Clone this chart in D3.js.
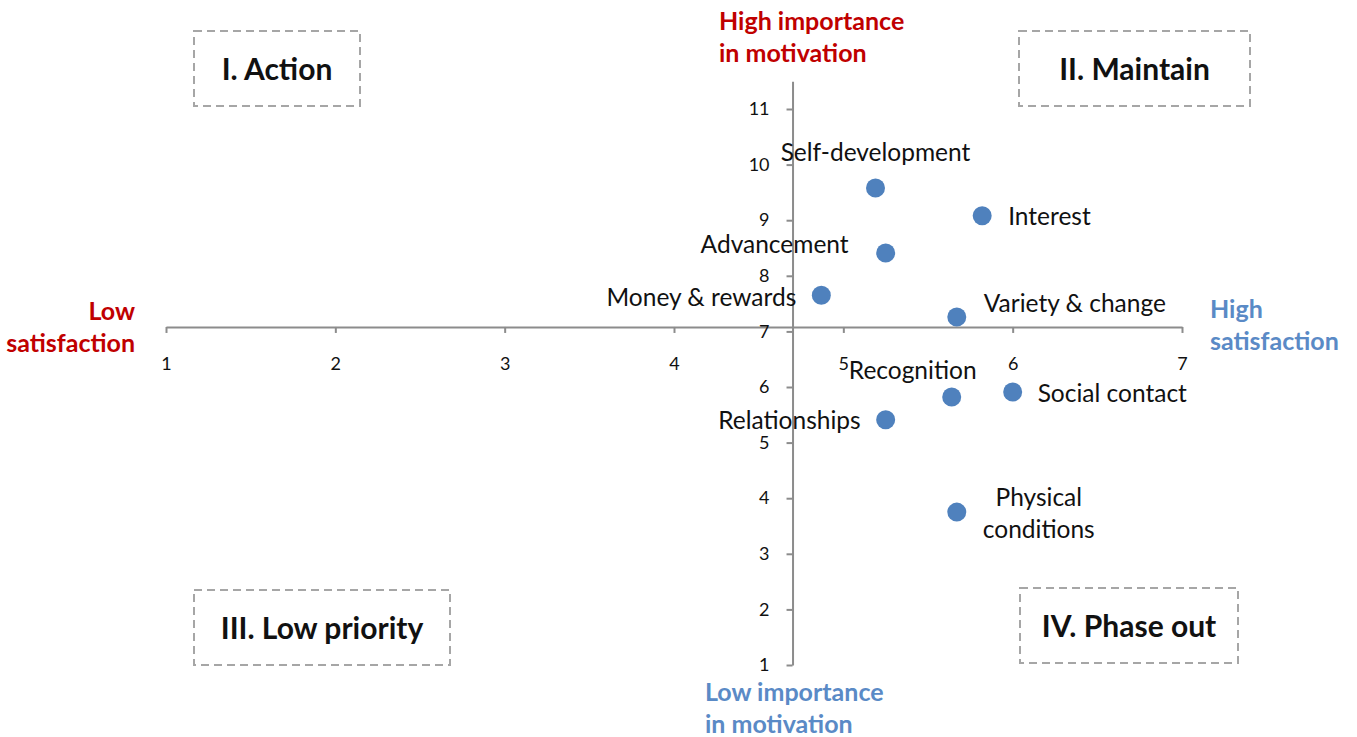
<!DOCTYPE html>
<html>
<head>
<meta charset="utf-8">
<script src="https://cdn.jsdelivr.net/npm/d3@7"></script>
<style>
  html, body { margin: 0; padding: 0; background: #fff; }
  svg { display: block; font-family: Lato, "Open Sans", sans-serif; }
</style>
</head>
<body>
<svg id="chart" width="1357" height="737"></svg>
<script>
// Motivation factors: satisfaction (x) vs importance in motivation (y)
const factors      = ["Self-development", "Interest", "Advancement", "Money & rewards", "Variety & change",
                      "Recognition", "Social contact", "Relationships", "Physical conditions"];
const satisfaction = [5.19, 5.82, 5.25, 4.87, 5.67, 5.64, 6.00, 5.25, 5.67];
const importance   = [9.58, 9.08, 8.41, 7.65, 7.26, 5.82, 5.91, 5.41, 3.75];

const xTicks = [1, 2, 3, 4, 5, 6, 7];
const yTicks = [1, 2, 3, 4, 5, 6, 7, 8, 9, 10, 11];

const quadrantNames = ["I. Action", "II. Maintain", "III. Low priority", "IV. Phase out"];

// Where the axes cross each other
const xCross = 4.7;   // vertical axis sits at this satisfaction value
const yCross = 7.08;  // horizontal axis sits at this importance value

// Label placement relative to each point (pixels, to the label's vertical centre)
const labelPlacement = [
  { dx: 0,   dy: -36, anchor: "middle" },
  { dx: 26,  dy: 1,   anchor: "start" },
  { dx: -37, dy: -9,  anchor: "end" },
  { dx: -25, dy: 2,   anchor: "end" },
  { dx: 27,  dy: -14, anchor: "start" },
  { dx: -39, dy: -27, anchor: "middle" },
  { dx: 25,  dy: 1,   anchor: "start" },
  { dx: -25, dy: 1,   anchor: "end" },
  { dx: 82,  dy: -15, anchor: "middle" }
];

const svg = d3.select("#chart");

const x = d3.scaleLinear().domain([1, 7]).range([166, 1182]);
const y = d3.scaleLinear().domain([1, 11.5]).range([665, 81.2]);

const axisColor = "#8c8c8c";
const dotColor = "#4f81bd";
const red = "#c00000";
const blue = "#5a8ac6";

// Horizontal (satisfaction) axis
const xAxisG = svg.append("g")
  .attr("transform", `translate(0,${y(yCross)})`)
  .call(d3.axisBottom(x).tickValues(xTicks).tickSize(6).tickSizeOuter(0).tickFormat(d3.format("d")));
xAxisG.select(".domain").attr("stroke", axisColor).attr("stroke-width", 2);
xAxisG.selectAll(".tick line").attr("stroke", axisColor).attr("stroke-width", 2);
xAxisG.selectAll(".tick text")
  .attr("y", 30).attr("dy", "0.71em")
  .attr("font-family", "Lato, sans-serif").attr("font-size", 18).attr("fill", "#111");

// Vertical (importance) axis
const yAxisG = svg.append("g")
  .attr("transform", `translate(${x(xCross)},0)`)
  .call(d3.axisLeft(y).tickValues(yTicks).tickSize(6).tickSizeOuter(0).tickFormat(d3.format("d")));
yAxisG.select(".domain").attr("stroke", axisColor).attr("stroke-width", 2);
yAxisG.selectAll(".tick line").attr("stroke", axisColor).attr("stroke-width", 2);
yAxisG.selectAll(".tick text")
  .attr("x", -23)
  .attr("font-family", "Lato, sans-serif").attr("font-size", 18).attr("fill", "#111");

// Points
const pts = factors.map((name, i) => ({ name, sx: satisfaction[i], iy: importance[i], lp: labelPlacement[i] }));

svg.append("g").selectAll("circle")
  .data(pts).join("circle")
  .attr("cx", d => x(d.sx))
  .attr("cy", d => y(d.iy))
  .attr("r", 9.5)
  .attr("fill", dotColor);

// Point labels
svg.append("g").selectAll("text")
  .data(pts).join("text")
  .attr("x", d => x(d.sx) + d.lp.dx)
  .attr("y", d => y(d.iy) + d.lp.dy)
  .attr("text-anchor", d => d.lp.anchor)
  .attr("font-size", 24.5)
  .attr("fill", "#111")
  .each(function (d) {
    const words = d.name === "Physical conditions" ? ["Physical", "conditions"] : [d.name];
    const t = d3.select(this);
    words.forEach((w, k) => {
      t.append("tspan")
        .attr("x", x(d.sx) + d.lp.dx)
        .attr("dy", k === 0 ? "0.35em" : 32)
        .text(w);
    });
  });

// Quadrant boxes
const boxes = [
  { x0: 194,  y0: 31,  x1: 360,  y1: 106 },
  { x0: 1019, y0: 31,  x1: 1250, y1: 106 },
  { x0: 194,  y0: 590, x1: 450,  y1: 665 },
  { x0: 1020, y0: 588, x1: 1238, y1: 663 }
];
const qg = svg.append("g").selectAll("g")
  .data(quadrantNames.map((n, i) => ({ n, b: boxes[i] }))).join("g");
qg.append("rect")
  .attr("x", d => d.b.x0).attr("y", d => d.b.y0)
  .attr("width", d => d.b.x1 - d.b.x0).attr("height", d => d.b.y1 - d.b.y0)
  .attr("fill", "none").attr("stroke", "#a6a6a6").attr("stroke-width", 2)
  .attr("stroke-dasharray", "8,5");
qg.append("text")
  .attr("x", d => (d.b.x0 + d.b.x1) / 2)
  .attr("y", d => (d.b.y0 + d.b.y1) / 2 + 11)
  .attr("text-anchor", "middle")
  .attr("font-size", 30).attr("font-weight", "bold").attr("fill", "#111")
  .text(d => d.n);

// Axis end titles
function title(lines, px, py, anchor, color) {
  const t = svg.append("text")
    .attr("text-anchor", anchor)
    .attr("font-size", 25).attr("font-weight", "bold").attr("fill", color);
  lines.forEach((l, k) => {
    t.append("tspan").attr("x", px).attr("y", py + k * 32).text(l);
  });
}
title(["High  importance", "in motivation"], 719, 30, "start", red);
title(["Low  importance", "in motivation"], 705, 701, "start", blue);
title(["Low", "satisfaction"], 135, 320, "end", red);
title(["High", "satisfaction"], 1210, 318, "start", blue);
</script>
</body>
</html>
